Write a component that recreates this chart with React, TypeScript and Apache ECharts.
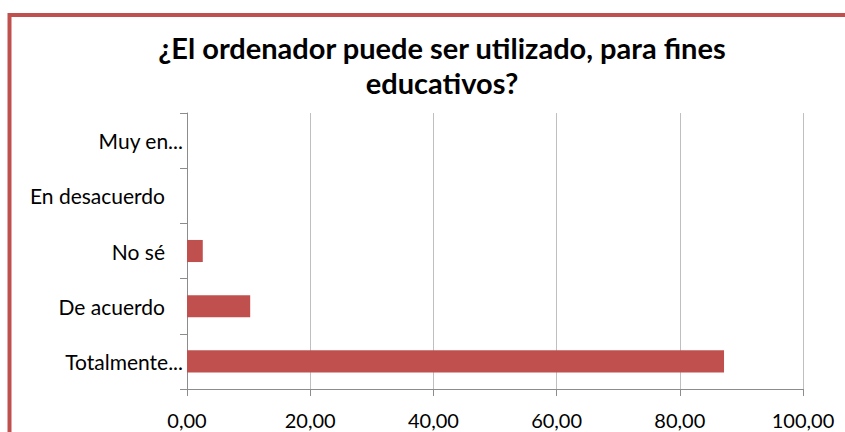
import React, { useEffect, useRef } from "react";
import * as echarts from "echarts";

const titleLines = ["¿El ordenador puede ser utilizado, para fines", "educativos?"];
const categories = ["Totalmente...", "De acuerdo", "No sé", "En desacuerdo", "Muy en..."];
const truncated = [true, false, false, false, true];
const values = [87.18, 10.26, 2.56, 0, 0];
const xTicks = [0, 20, 40, 60, 80, 100];

export default function App() {
  const ref = useRef<HTMLDivElement>(null);
  useEffect(() => {
    if (!ref.current) return;
    const chart = echarts.init(ref.current, null, { renderer: "svg" });
    const catIndex: Record<string, number> = {};
    categories.forEach((c, i) => (catIndex[c] = i));
    chart.setOption({
      animation: false,
      backgroundColor: "#ffffff",
      title: {
        text: titleLines.join("\n"),
        left: 437,
        top: 25,
        textAlign: "center",
        textStyle: {
          fontFamily: "Lato",
          fontWeight: "bold",
          fontSize: 29,
          lineHeight: 35,
          color: "#000000",
        },
      },
      graphic: [
        {
          type: "rect",
          shape: { x: 9.5, y: 15, width: 900, height: 500 },
          style: { fill: "none", stroke: "#C0504D", lineWidth: 4 },
          silent: true,
        },
      ],
      grid: { left: 187, right: 42, top: 113, bottom: 43, containLabel: false },
      xAxis: {
        type: "value",
        min: xTicks[0],
        max: xTicks[xTicks.length - 1],
        interval: 20,
        axisLine: { show: true, lineStyle: { color: "#8c8c8c", width: 1 } },
        axisTick: { show: true, length: 7, lineStyle: { color: "#8c8c8c" } },
        splitLine: { show: true, lineStyle: { color: "#bfbfbf", width: 1 } },
        axisLabel: {
          margin: 21,
          fontFamily: "Lato",
          fontSize: 20,
          color: "#000000",
          formatter: (v: number) => v.toFixed(2).replace(".", ","),
        },
      },
      yAxis: {
        type: "category",
        data: categories,
        axisLine: { show: true, lineStyle: { color: "#8c8c8c", width: 1 } },
        axisTick: { show: true, length: 7, lineStyle: { color: "#8c8c8c" } },
        splitLine: { show: false },
        axisLabel: {
          margin: 4,
          fontFamily: "Lato",
          fontSize: 21,
          color: "#000000",
          formatter: (v: string) =>
            truncated[catIndex[v]] ? `{t|${v}}` : `{n|${v}}`,
          rich: {
            t: { fontFamily: "Lato", fontSize: 21, color: "#000000", padding: [0, 0, 0, 0] },
            n: { fontFamily: "Lato", fontSize: 21, color: "#000000", padding: [0, 18, 0, 0] },
          },
        },
      },
      series: [
        {
          type: "bar",
          data: values,
          barWidth: "40%",
          itemStyle: { color: "#C0504D" },
        },
      ],
    });
    return () => chart.dispose();
  }, []);
  return (
    <div
      ref={ref}
      style={{ position: "fixed", left: 0, top: 0, width: 845, height: 432 }}
    />
  );
}
